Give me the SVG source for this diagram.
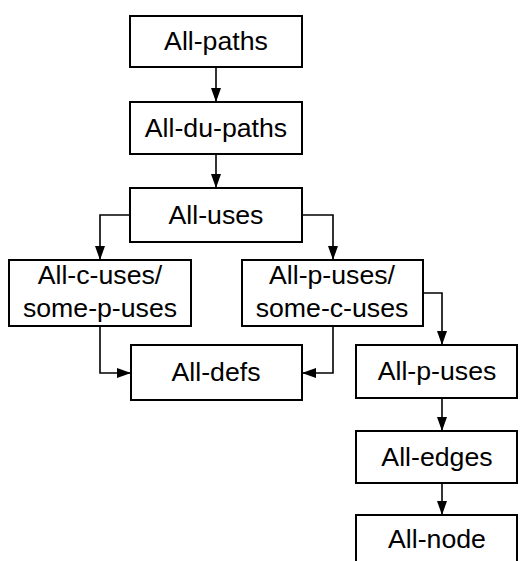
<svg xmlns="http://www.w3.org/2000/svg" width="520" height="561" viewBox="0 0 520 561">
<style>
.box{fill:#fff;stroke:#000;stroke-width:2}
.t{font-family:"Liberation Sans",Arial,sans-serif;font-size:26.7px;fill:#000;text-anchor:middle}
.c{fill:none;stroke:#000;stroke-width:1.6;marker-end:url(#ah)}
</style>
<defs>
<marker id="ah" markerUnits="userSpaceOnUse" markerWidth="15" markerHeight="12" refX="14" refY="5" orient="auto">
<path d="M0,0 L14,5 L0,10 Z" fill="#000"/>
</marker>
</defs>
<rect width="520" height="561" fill="#fff"/>
<g id="connectors">
<path class="c" d="M216,67 V102"/>
<path class="c" d="M216,154 V188"/>
<path class="c" d="M130,215 H100 V260"/>
<path class="c" d="M302,215 H333 V260"/>
<path class="c" d="M100,326 V373 H131"/>
<path class="c" d="M333,326 V373 H302"/>
<path class="c" d="M423,293 H442 V345"/>
<path class="c" d="M442,398 V431"/>
<path class="c" d="M442,483 V515"/>
</g>
<g id="all-paths"><rect class="box" x="130" y="16" width="172" height="51"/><text class="t" x="216" y="50">All-paths</text></g>
<g id="all-du-paths"><rect class="box" x="130" y="102" width="172" height="52"/><text class="t" x="216" y="137">All-du-paths</text></g>
<g id="all-uses"><rect class="box" x="130" y="188" width="172" height="54"/><text class="t" x="216" y="224">All-uses</text></g>
<g id="all-c-uses"><rect class="box" x="9" y="260" width="182" height="66"/><text class="t" x="100" y="284">All-c-uses/</text><text class="t" x="100" y="317">some-p-uses</text></g>
<g id="all-p-uses-some"><rect class="box" x="242" y="260" width="181" height="66"/><text class="t" x="332" y="284">All-p-uses/</text><text class="t" x="332" y="317">some-c-uses</text></g>
<g id="all-defs"><rect class="box" x="131" y="345" width="171" height="55"/><text class="t" x="216" y="381">All-defs</text></g>
<g id="all-p-uses"><rect class="box" x="356" y="345" width="161" height="53"/><text class="t" x="437" y="380">All-p-uses</text></g>
<g id="all-edges"><rect class="box" x="356" y="431" width="161" height="52"/><text class="t" x="437" y="466">All-edges</text></g>
<g id="all-node"><rect class="box" x="356" y="515" width="161" height="60"/><text class="t" x="437" y="548">All-node</text></g>
</svg>
